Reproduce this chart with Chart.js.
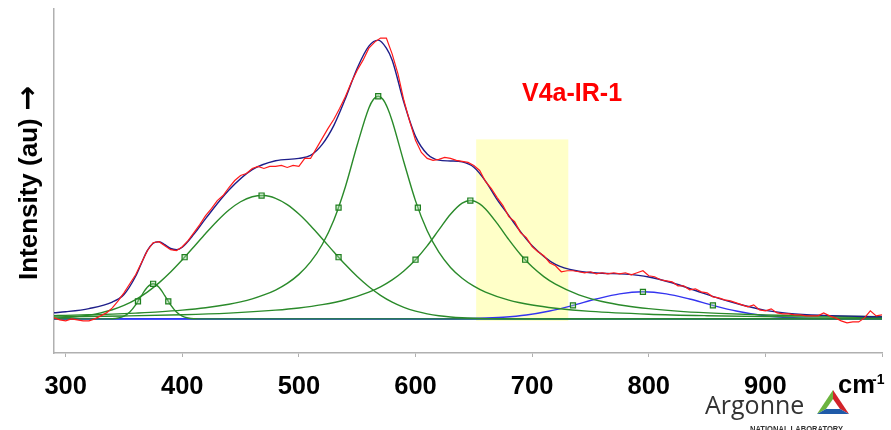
<!DOCTYPE html>
<html>
<head>
<meta charset="utf-8">
<script src="https://cdn.jsdelivr.net/npm/chart.js@4.4.1/dist/chart.umd.min.js"></script>
<style>
  html, body { margin: 0; padding: 0; background: #fff; }
  #wrap { width: 891px; height: 430px; position: relative; }
</style>
</head>
<body>
<div id="wrap"><canvas id="ramanChart" width="891" height="430"></canvas></div>
<script>
// axis ticks (cm-1)
const xTicks = [300, 400, 500, 600, 700, 800, 900, 1000];
const xLabels = ['300', '400', '500', '600', '700', '800', '900', ''];

// measured spectrum (red)
const dataX = [290, 295, 300, 305, 310, 315, 320, 325, 330, 335, 340, 345, 350, 355, 360, 365, 370, 375, 380, 385,
  390, 395, 400, 405, 410, 415, 420, 425, 430, 435, 440, 445, 450, 455, 460, 465, 470, 475, 480, 485,
  490, 495, 500, 505, 510, 515, 520, 525, 530, 535, 540, 545, 550, 555, 560, 565, 570, 575, 580, 585,
  590, 595, 600, 605, 610, 615, 620, 625, 630, 635, 640, 645, 650, 655, 660, 665, 670, 675, 680, 685,
  690, 695, 700, 705, 710, 715, 720, 725, 730, 735, 740, 745, 750, 755, 760, 765, 770, 775, 780, 785,
  790, 795, 800, 805, 810, 815, 820, 825, 830, 835, 840, 845, 850, 855, 860, 865, 870, 875, 880, 885,
  890, 895, 900, 905, 910, 915, 920, 925, 930, 935, 940, 945, 950, 955, 960, 965, 970, 975, 980, 985,
  990, 995, 1000];
const dataY = [1, -1, -2, 0, -1, -2, -2, 0, 3, 6, 11, 18, 26, 35, 44, 56, 68, 76, 77, 73,
  69, 68, 72, 78, 86, 94, 103, 110, 118, 123, 131, 138, 143, 145, 150, 152, 150, 152, 152, 153,
  151, 153, 152, 160, 160, 170, 180, 190, 199, 210, 222, 236, 248, 258, 270, 276, 280, 280, 264, 244,
  218, 197, 178, 166, 160, 158, 159, 161, 160, 158, 157, 156, 153, 148, 137, 130, 121, 113, 102, 97,
  86, 81, 72, 67, 63, 56, 53, 47, 48, 48, 47, 46, 47, 45, 46, 45, 46, 45, 46, 44,
  46, 48, 43, 42, 39, 38, 37, 33, 33, 29, 30, 27, 26, 22, 21, 19, 18, 16, 14, 12,
  14, 9, 8, 10, 6, 5, 5, 4, 4, 3, 3, 3, 6, 3, 1, -2, -4, -3, -3, 1,
  8, 3, 4];

// fitted envelope (navy)
const fitX = [290, 300, 320, 340, 350, 360, 365, 370, 375, 380, 385, 390, 395, 400, 410, 420, 440, 460, 480, 500,
  510, 520, 530, 540, 550, 560, 568, 575, 580, 590, 600, 610, 620, 630, 640, 650, 660, 670, 680, 690,
  700, 720, 740, 760, 780, 800, 820, 840, 860, 880, 900, 920, 950, 1000];
const fitY = [6.1, 7.1, 10.3, 16.8, 24.3, 42.5, 55.5, 68.0, 75.5, 77.0, 74.0, 70.2, 69.0, 71.5, 84.5, 100.0, 128.5, 148.8, 157.7, 160.0,
  163.0, 174.0, 193.0, 220.0, 250.0, 272.0, 278.0, 270.0, 258.0, 216.0, 182.0, 164.5, 158.3, 157.5, 156.5, 151.2, 137.4, 118.9, 103.0, 87.0,
  73.0, 54.3, 47.5, 45.5, 44.6, 41.8, 36.0, 28.3, 20.5, 13.9, 8.5, 5.5, 3.5, 2.0];

// fitted components (green) + the 795 band (blue)
const peak1X = [290, 330, 340, 345, 350, 355, 360, 365, 370, 375, 380, 385, 390, 395, 400, 405, 410, 420, 1000];
const peak1Y = [0, 0, 0.2, 0.9, 2.7, 6.8, 13.9, 23.2, 31.6, 35, 31.6, 23.2, 13.9, 6.8, 2.7, 0.9, 0.2, 0, 0];

const peak2X = [290, 300, 310, 320, 330, 340, 350, 360, 370, 380, 390, 400, 410, 420, 430, 440, 450, 460, 470, 480,
  490, 500, 510, 520, 530, 540, 550, 560, 570, 580, 590, 600, 610, 620, 630, 640, 650, 660, 670, 680,
  690, 700, 1000];
const peak2Y = [0.8, 1.4, 2.3, 3.8, 6.0, 9.1, 13.4, 19.2, 26.7, 35.9, 46.7, 58.9, 72.0, 85.2, 97.7, 108.6, 116.8, 121.8, 123.0, 120.2,
  113.9, 104.5, 92.9, 80.0, 66.7, 53.9, 42.2, 32.0, 23.5, 16.7, 11.5, 7.7, 5.0, 3.1, 1.9, 1.1, 0.6, 0.3, 0.2, 0.1,
  0, 0, 0];

const peak3X = [290, 300, 320, 340, 360, 380, 400, 420, 440, 450, 460, 470, 480, 490, 500, 510, 520, 530, 540, 550,
  560, 564, 568, 572, 576, 580, 590, 600, 610, 620, 630, 640, 650, 660, 680, 700, 720, 750, 800, 850,
  900, 950, 1000];
const peak3Y = [3.3, 3.5, 4.1, 4.8, 5.8, 7.0, 8.7, 11.1, 14.6, 17.0, 20.0, 23.9, 28.8, 35.4, 44.4, 56.8, 74.2, 98.7, 132.3, 173.4,
  210.3, 219.0, 222, 219.0, 210.3, 197.4, 156.5, 117.7, 87.9, 66.5, 51.3, 40.5, 32.6, 26.7, 18.7, 13.8, 10.6, 7.5, 4.7, 3.2,
  2.3, 1.75, 1.4];

const peak4X = [290, 300, 350, 400, 440, 480, 500, 520, 540, 560, 570, 580, 590, 600, 610, 620, 630, 640, 647, 655,
  660, 670, 680, 690, 700, 710, 720, 740, 760, 780, 800, 830, 860, 900, 950, 1000];
const peak4Y = [2.0, 2.1, 2.9, 4.1, 5.8, 8.7, 10.9, 14.2, 19.1, 26.7, 32.0, 38.9, 47.8, 59.0, 72.8, 88.7, 104.3, 115.4, 118, 114.7,
  109.6, 95.2, 79.0, 64.2, 51.9, 42.2, 34.6, 24.0, 17.4, 13.1, 10.2, 7.3, 5.5, 3.9, 2.8, 2.1];

const peak5X = [290, 615, 635, 655, 675, 695, 715, 735, 755, 775, 795, 815, 835, 855, 875, 895, 915, 935, 955, 975, 1000];
const peak5Y = [0, 0, 0.2, 0.6, 1.7, 3.9, 7.9, 13.5, 19.8, 25.0, 27, 25.0, 19.8, 13.5, 7.9, 3.9, 1.7, 0.6, 0.2, 0, 0];

// peak centre and half-height markers
const markerX = [362, 375, 388, 402, 468, 534, 534, 568, 602, 600, 647, 694, 735, 795, 855];
const markerY = [17.5, 35, 17.5, 61.5, 123, 61.5, 111, 222, 111, 59, 118, 59, 13.5, 27, 13.5];

// baseline
const baseX = [290, 1000];
const baseY = [0, 0];

// shaded region
const bandX = [652, 731];
const bandY = [-2, 179];

const sampleName = 'V4a-IR-1';
const yTitle = 'Intensity (au) ';
const yArrow = '\u2192';

const FONT = '"Liberation Sans", Arial, sans-serif';

function pts(xs, ys) {
  return xs.map((x, i) => ({ x: x, y: ys[i] }));
}

function curve(label, xs, ys, color, width) {
  return {
    label: label,
    data: pts(xs, ys),
    borderColor: color,
    borderWidth: width,
    pointRadius: 0,
    fill: false,
    cubicInterpolationMode: 'monotone'
  };
}

const decorations = {
  id: 'decorations',
  beforeDatasetsDraw(chart) {
    const { ctx, scales: { x, y } } = chart;
    ctx.save();
    ctx.fillStyle = '#ffffc8';
    const x0 = x.getPixelForValue(bandX[0]);
    const x1 = x.getPixelForValue(bandX[1]);
    const y0 = y.getPixelForValue(bandY[1]);
    const y1 = y.getPixelForValue(bandY[0]);
    ctx.fillRect(x0, y0, x1 - x0, y1 - y0);
    ctx.restore();
  },
  afterDraw(chart) {
    const ctx = chart.ctx;
    const area = chart.chartArea;
    ctx.save();

    // y axis title, rotated
    ctx.save();
    ctx.translate(37, (area.top + area.bottom) / 2 + 2);
    ctx.rotate(-Math.PI / 2);
    ctx.fillStyle = '#000';
    ctx.textBaseline = 'alphabetic';
    ctx.textAlign = 'left';
    ctx.font = 'bold 26px ' + FONT;
    const w1 = ctx.measureText(yTitle).width;
    ctx.font = 'bold 30px "DejaVu Sans", sans-serif';
    const w2 = ctx.measureText(yArrow).width;
    const start = -(w1 + w2) / 2;
    ctx.font = 'bold 26px ' + FONT;
    ctx.fillText(yTitle, start, 0);
    ctx.font = 'bold 30px "DejaVu Sans", sans-serif';
    ctx.fillText(yArrow, start + w1, 0);
    ctx.restore();

    // sample name
    ctx.fillStyle = '#ff0000';
    ctx.font = 'bold 25px ' + FONT;
    ctx.textBaseline = 'alphabetic';
    ctx.textAlign = 'left';
    ctx.fillText(sampleName, 522, 101);

    // unit label
    ctx.fillStyle = '#000';
    ctx.font = 'bold 25.5px ' + FONT;
    ctx.fillText('cm', 838, 393);
    ctx.font = 'bold 14px ' + FONT;
    ctx.fillText('-1', 872, 384);

    // Argonne logo
    ctx.fillStyle = '#333';
    ctx.font = '25px "Open Sans", ' + FONT;
    ctx.fillText('Argonne', 705, 414, 106);
    ctx.font = 'bold 9px ' + FONT;
    ctx.fillText('NATIONAL LABORATORY', 750, 432, 93);

    const top = [833, 390], bl = [817, 414], br = [849, 414];
    const iTop = [833, 399], iBl = [826, 409], iBr = [840, 409];
    const quad = (a, b, c, d, col) => {
      ctx.beginPath();
      ctx.moveTo(a[0], a[1]); ctx.lineTo(b[0], b[1]);
      ctx.lineTo(c[0], c[1]); ctx.lineTo(d[0], d[1]);
      ctx.closePath();
      ctx.fillStyle = col;
      ctx.fill();
    };
    quad(top, bl, iBl, iTop, '#6cb33f');
    quad(top, br, iBr, iTop, '#d2232a');
    quad(bl, br, iBr, iBl, '#1f5aa8');
    ctx.restore();
  }
};

new Chart(document.getElementById('ramanChart'), {
  type: 'line',
  data: {
    datasets: [
      {
        label: 'markers',
        data: pts(markerX, markerY),
        showLine: false,
        pointStyle: 'rect',
        pointRadius: 3.6,
        pointBorderWidth: 1.2,
        pointBorderColor: '#1f7f1f',
        pointBackgroundColor: 'rgba(160,215,160,0.45)'
      },
      Object.assign(curve('data', dataX, dataY, '#ff1a1a', 1.2), { cubicInterpolationMode: 'default', tension: 0 }),
      curve('fit', fitX, fitY, '#1e1e8a', 1.4),
      curve('peak 375', peak1X, peak1Y, '#2a8a2a', 1.4),
      curve('peak 468', peak2X, peak2Y, '#2a8a2a', 1.4),
      curve('peak 568', peak3X, peak3Y, '#2a8a2a', 1.4),
      curve('peak 647', peak4X, peak4Y, '#2a8a2a', 1.4),
      curve('peak 795', peak5X, peak5Y, '#3434f0', 1.4),
      curve('baseline', baseX, baseY, '#1e3cff', 1.6)
    ]
  },
  options: {
    responsive: false,
    animation: false,
    layout: { padding: { left: 54, top: 9, right: 9, bottom: 12.4 } },
    plugins: {
      legend: { display: false },
      tooltip: { enabled: false }
    },
    scales: {
      x: {
        type: 'linear',
        min: 290,
        max: 1000,
        afterBuildTicks: (scale) => {
          scale.ticks = xTicks.map(v => ({ value: v }));
        },
        // the last tick has no label, so no extra room is needed on the right
        afterFit: (scale) => {
          scale.paddingRight = 0;
        },
        ticks: {
          color: '#000',
          padding: 15,
          maxRotation: 0,
          autoSkip: false,
          font: { family: FONT, size: 25.5, weight: 'bold' },
          callback: (v) => xLabels[xTicks.indexOf(v)]
        },
        grid: {
          display: true,
          drawOnChartArea: false,
          drawTicks: true,
          tickLength: 4,
          color: '#b0b0b0'
        },
        border: { display: true, color: '#b0b0b0', width: 1.5 }
      },
      y: {
        min: -34,
        max: 309,
        ticks: { display: false },
        grid: { display: false, drawTicks: false },
        border: { display: true, color: '#b0b0b0', width: 1.5 }
      }
    }
  },
  plugins: [decorations]
});
</script>
</body>
</html>
